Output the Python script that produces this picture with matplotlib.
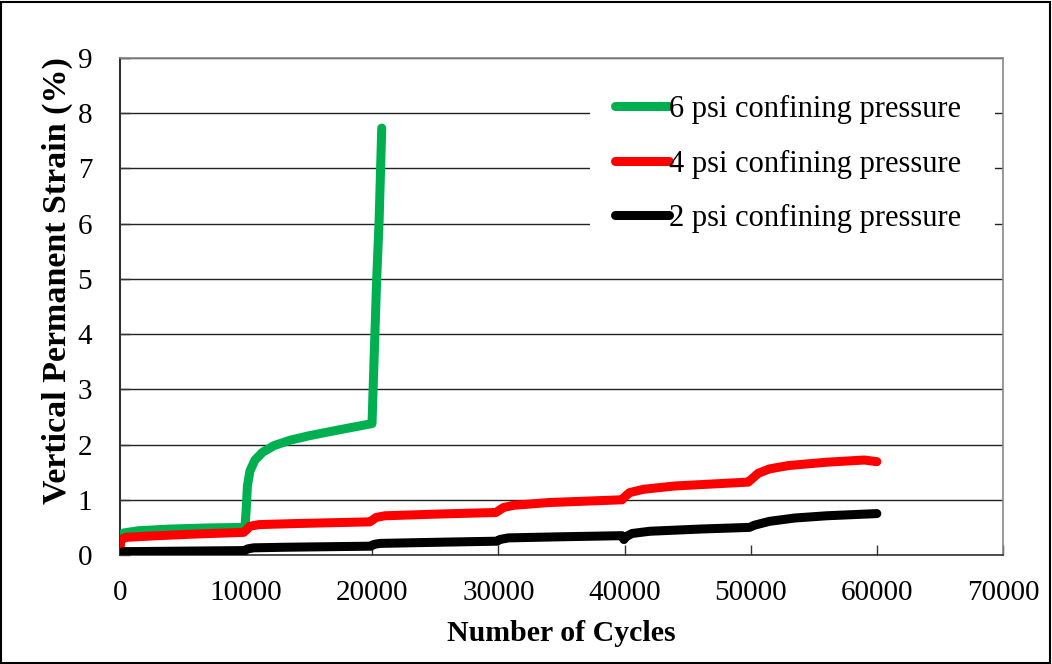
import matplotlib
matplotlib.use("Agg")
import matplotlib.pyplot as plt
from matplotlib.patches import Rectangle

plt.rcParams['font.family'] = ['Liberation Serif', 'DejaVu Serif']

# 6 psi confining pressure
cycles_6 = [0, 300, 1500, 4000, 7000, 9900, 10000, 10100, 10300, 10700, 11300, 12200,
            13500, 15000, 17000, 19980, 20050, 20350, 20540, 20750]
strain_6 = [0.36, 0.40, 0.44, 0.47, 0.49, 0.50, 0.80, 1.25, 1.52, 1.72, 1.86, 1.98,
            2.08, 2.16, 2.25, 2.38, 2.90, 5.00, 6.05, 7.73]

# 4 psi confining pressure
cycles_4 = [0, 50, 500, 3000, 6000, 9800, 10000, 10300, 11000, 14000, 19800, 20000,
            20300, 21000, 25000, 29800, 30000, 30400, 31200, 34000, 39800, 40000,
            40400, 41500, 44000, 49800, 50000, 50600, 51500, 53000, 56000, 59000, 60000]
strain_4 = [0.00, 0.28, 0.32, 0.35, 0.38, 0.41, 0.45, 0.52, 0.55, 0.57, 0.60, 0.63,
            0.68, 0.71, 0.74, 0.77, 0.80, 0.86, 0.90, 0.95, 1.00, 1.05,
            1.13, 1.19, 1.25, 1.32, 1.36, 1.48, 1.56, 1.62, 1.68, 1.72, 1.69]

# 2 psi confining pressure
cycles_2 = [0, 300, 5000, 9900, 10100, 10600, 13000, 19900, 20100, 20600, 25000, 29900,
            30100, 30800, 35000, 39800, 39950, 40100, 40600, 42000, 46000, 49900,
            50300, 51500, 53500, 56000, 60000]
strain_2 = [0.04, 0.06, 0.07, 0.08, 0.11, 0.13, 0.14, 0.16, 0.19, 0.21, 0.23, 0.25,
            0.28, 0.31, 0.33, 0.35, 0.28, 0.33, 0.39, 0.43, 0.47, 0.50,
            0.54, 0.61, 0.67, 0.71, 0.75]

series = [
    ("6 psi confining pressure", cycles_6, strain_6, "#00B050"),
    ("4 psi confining pressure", cycles_4, strain_4, "#FF0000"),
    ("2 psi confining pressure", cycles_2, strain_2, "#000000"),
]

x_ticks = [0, 10000, 20000, 30000, 40000, 50000, 60000, 70000]
y_ticks = [0, 1, 2, 3, 4, 5, 6, 7, 8, 9]

W, H = 1052, 664
fig = plt.figure(figsize=(W/100, H/100), dpi=100)
ax = fig.add_axes([120/W, 109/H, 883/W, 497/H])

for label, xs, ys, col in series:
    ax.plot(xs, ys, color=col, lw=6.5, solid_capstyle='round', solid_joinstyle='round',
            label=label, zorder=3)

ax.set_xlim(0, 70000)
ax.set_ylim(0, 9)
ax.set_xticks(x_ticks)
ax.set_xticklabels([str(v) for v in x_ticks])
ax.set_yticks(y_ticks)
ax.set_yticklabels([str(v) for v in y_ticks])
ax.tick_params(axis='both', direction='in', labelsize=21, length=7, width=1, color='#333333')
ax.tick_params(axis='x', pad=18)
ax.tick_params(axis='y', pad=20)
ax.grid(axis='y', color='#222222', lw=1, zorder=1)
ax.set_axisbelow(True)
for s in ['top', 'right']:
    ax.spines[s].set_color('#888888')
    ax.spines[s].set_linewidth(1.2)
ax.spines['left'].set_color('#333333')
ax.spines['bottom'].set_color('#333333')
ax.spines['left'].set_linewidth(1.5)
ax.spines['bottom'].set_linewidth(1.2)

ax.set_xlabel("Number of Cycles", fontsize=21.5, fontweight='bold', labelpad=10)
ax.set_ylabel("Vertical Permanent Strain (%)", fontsize=24.5, fontweight='bold')
ax.yaxis.set_label_coords(-0.053, 0.553)

# white box behind the legend that hides the gridlines
ax.add_patch(Rectangle((590/W, 1 - 245/H), 405/W, 170/H, transform=fig.transFigure,
                       facecolor='white', edgecolor='none', zorder=2, clip_on=False))

fs = 22
leg = ax.legend(loc='upper left', bbox_to_anchor=(606/W, 1 - 86/H),
                bbox_transform=fig.transFigure, frameon=False, fontsize=fs,
                handlelength=1.75, handletextpad=0.0, labelspacing=0.83,
                borderpad=0.3, borderaxespad=0)
leg.set_zorder(5)

fig.patches.append(Rectangle((0.001, 0.002), 0.997, 0.995, transform=fig.transFigure,
                             fill=False, edgecolor='black', lw=1.5, zorder=10))

fig.savefig("out.png", dpi=100)
